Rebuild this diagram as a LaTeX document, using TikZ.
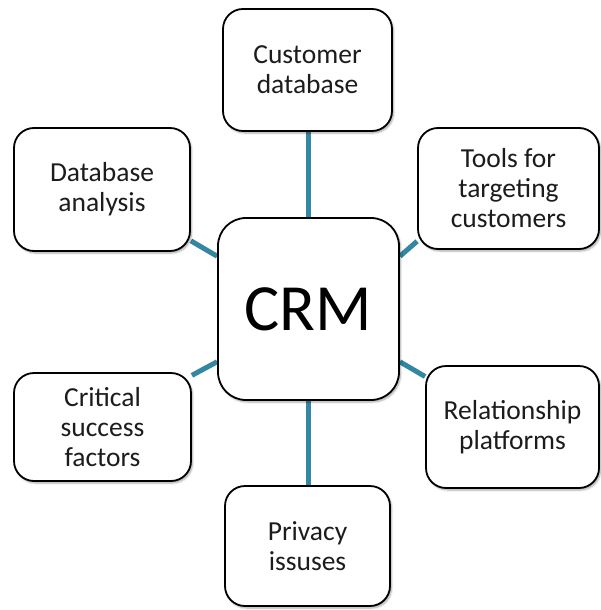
\documentclass[tikz,border=0pt]{standalone}
\usepackage{fontspec}
\setmainfont{Carlito}
\usetikzlibrary{shadows.blur}
\pgfdeclarelayer{background}
\pgfsetlayers{background,main}
\definecolor{linkteal}{RGB}{52,135,160}
\definecolor{inkgray}{RGB}{28,28,28}
\tikzset{
  topic/.style={draw=black, line width=1.8pt, fill=white, rounded corners=20pt,
    align=center, inner sep=0pt, text=inkgray,
    font=\fontsize{27.5}{30}\selectfont,
    blur shadow={shadow xshift=1.5pt, shadow yshift=-2pt, shadow blur steps=6, shadow opacity=35}},
  hub/.style={topic, rounded corners=28pt, font=\fontsize{66}{72}\selectfont, text=black},
  link/.style={draw=linkteal, line width=5pt}
}
\begin{document}
\begin{tikzpicture}[x=1pt, y=-1pt]
\useasboundingbox (0,0) rectangle (601,610);

\node[hub, minimum width=181pt, minimum height=182pt] (crm) at (308.5,309) {CRM};

\node[topic, minimum width=169pt, minimum height=122pt] (cust) at (307.5,70) {Customer\\database};
\node[topic, minimum width=176pt, minimum height=123pt] (dba)  at (102,189.5) {Database\\analysis};
\node[topic, minimum width=181pt, minimum height=121pt] (tools) at (508.5,188.5) {Tools for\\targeting\\customers};
\node[topic, minimum width=177pt, minimum height=108pt] (csf)  at (102.5,427) {Critical\\success\\factors};
\node[topic, minimum width=173pt, minimum height=122pt] (rel)  at (512.5,427) {Relationship\\platforms};
\node[topic, minimum width=165pt, minimum height=120pt] (priv) at (307.5,546) {Privacy\\issuses};

% spokes from the hub, drawn behind the boxes
\begin{pgfonlayer}{background}
  \draw[link] (crm.north) -- (crm.north |- cust.south);
  \draw[link] (crm.south) -- (crm.south |- priv.north);
  \draw[link] (crm.150) -- (dba.-30);
  \draw[link] (crm.30)  -- (tools.210);
  \draw[link] (crm.210) -- (csf.30);
  \draw[link] (crm.-30) -- (rel.150);
\end{pgfonlayer}
\end{tikzpicture}
\end{document}
